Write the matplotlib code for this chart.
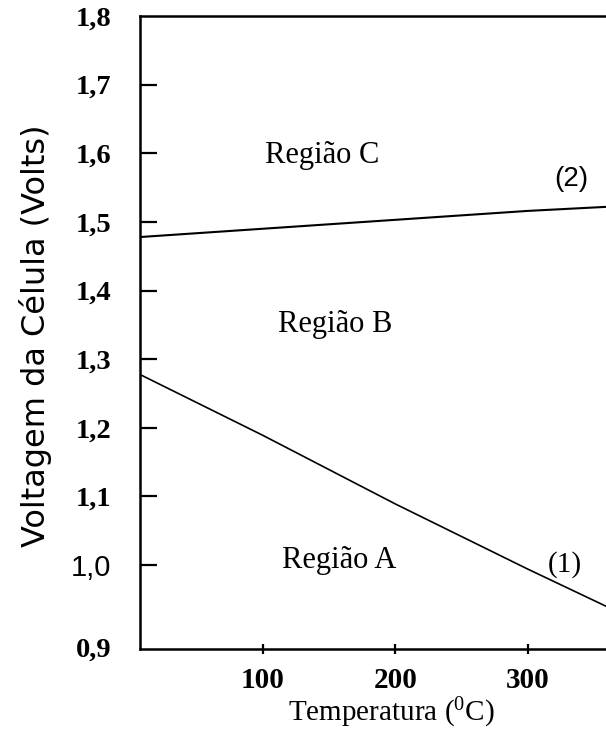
import numpy as np
import matplotlib
matplotlib.use("Agg")
import matplotlib.pyplot as plt
from matplotlib.transforms import ScaledTranslation

plt.rcParams["mathtext.fontset"] = "custom"
plt.rcParams["mathtext.rm"] = "Liberation Serif"
plt.rcParams["mathtext.it"] = "Liberation Serif:italic"

# ========================
# Data
# ========================
temperatura = [8, 100, 200, 300, 360]                  # deg C
curva_1 = [1.277, 1.189, 1.089, 0.994, 0.939]          # reversible voltage (1)
curva_2 = [1.478, 1.490, 1.503, 1.516, 1.522]          # thermoneutral voltage (2)

yticks = [0.9, 1.0, 1.1, 1.2, 1.3, 1.4, 1.5, 1.6, 1.7, 1.8]
ytick_labels = ["0,9", "1,0", "1,1", "1,2", "1,3", "1,4", "1,5", "1,6", "1,7", "1,8"]
xticks = [100, 200, 300]

regioes = ["Região C", "Região B", "Região A"]
regioes_xy = [(145, 1.586), (155, 1.340), (158, 0.995)]

serif = "Liberation Serif"
sans = "DejaVu Sans"

# ========================
# Figure
# ========================
fig = plt.figure(figsize=(6.06, 7.35), dpi=100)
ax = fig.add_axes([0.2315, 0.1174, 0.7685, 0.8608])

ax.plot(temperatura, curva_1, color="black", lw=1.2)
ax.plot(temperatura, curva_2, color="black", lw=1.5)

ax.set_xlim(7.6, 359)
ax.set_ylim(0.878, 1.8)

# axis frame: open on the right
ax.spines["right"].set_visible(False)
for s in ["left", "bottom", "top"]:
    ax.spines[s].set_linewidth(1.8)

ax.set_yticks(yticks)
ax.set_yticklabels(ytick_labels, fontfamily=serif, fontsize=20.5, fontweight="bold")
ax.tick_params(axis="y", direction="in", length=12, width=1.6, pad=21, right=False)
ax.yaxis.get_major_ticks()[0].tick1line.set_visible(False)
ax.yaxis.get_major_ticks()[-1].tick1line.set_visible(False)

ylbls = ax.get_yticklabels()
# 0,9 sits down on the bottom spine
ylbls[0].set_transform(ylbls[0].get_transform()
                       + ScaledTranslation(0, -10 / 72, fig.dpi_scale_trans))
# the 1,0 label is set in a sans face
ylbls[1].set_fontfamily("Liberation Sans")
ylbls[1].set_fontweight("normal")
ylbls[1].set_fontsize(21)

ax.set_xticks(xticks)
ax.set_xticklabels([str(t) for t in xticks], fontfamily=serif, fontsize=21,
                   fontweight="bold")
ax.tick_params(axis="x", direction="inout", length=7, width=1.6, pad=10, top=False)

ax.set_xlabel(r"Temperatura ($^{\mathrm{0}}$C)", fontfamily=serif, fontsize=21)
ax.xaxis.set_label_coords(0.539, -0.074)
ax.set_ylabel("Voltagem da Célula (Volts)", fontfamily=sans, fontsize=23)
ax.yaxis.set_label_coords(-0.19, 0.494)

for nome, (x, y) in zip(regioes, regioes_xy):
    ax.text(x, y, nome, fontfamily=serif, fontsize=22, ha="center", va="baseline")

ax.text(328, 1.0, "(1)", fontfamily=serif, fontsize=21, ha="center", va="center")
ax.text(332.5, 1.562, "(2)", fontfamily="Liberation Sans", fontsize=20,
        ha="center", va="center")

fig.savefig("out.png", dpi=100, facecolor="white")
